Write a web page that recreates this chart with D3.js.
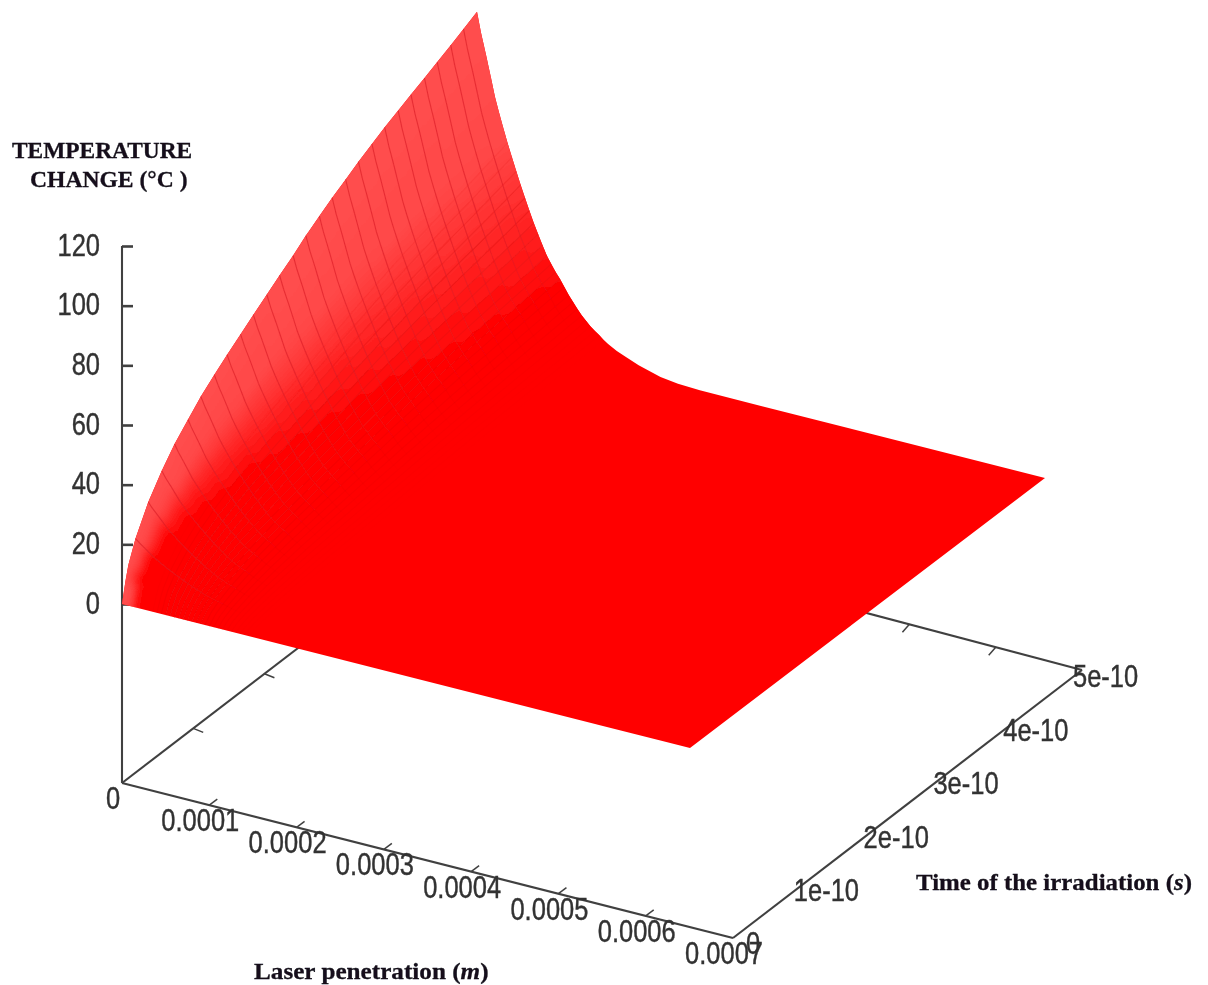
<!DOCTYPE html>
<html><head><meta charset="utf-8">
<script src="https://cdn.jsdelivr.net/npm/d3@7/dist/d3.min.js"></script>
<style>html,body{margin:0;padding:0;background:#fff}svg{display:block}</style>
</head><body><div id="chart"></div>
<script>
// Tick labels
const zTicks = [0, 20, 40, 60, 80, 100, 120];
const depthTicks = [0, 1e-4, 2e-4, 3e-4, 4e-4, 5e-4, 6e-4, 7e-4];
const depthTickLabels = ["0","0.0001","0.0002","0.0003","0.0004","0.0005","0.0006","0.0007"];
const timeTicks = [0, 1e-10, 2e-10, 3e-10, 4e-10, 5e-10];
const timeTickLabels = ["0","1e-10","2e-10","3e-10","4e-10","5e-10"];

// Surface temperature (deg C, depth 0) read along the upper-left edge of the sheet; time in 1e-10 s
const timeSamples = [0,0.05,0.09,0.19,0.37,0.56,0.74,0.93,1.11,1.30,1.48,1.67,1.85,2.04,2.22,2.41,2.59,2.78,2.96,3.15,3.33,3.52,3.70,3.89,4.07,4.26,4.44,4.63,4.81,5.0];
const surfaceTemp = [0,7,11.5,18.5,27.5,34.5,40.2,45,49.5,53.3,56.8,60.2,63.5,66.8,70,73.2,76.6,79.7,82.6,85.3,88,90.5,92.8,95,97.1,99.2,101.3,103.5,105.7,108];
// Relative fall of temperature with depth, read along the right edge of the sheet; depth in 1e-4 m
const depthSamples = [0,0.046,0.103,0.16,0.206,0.25,0.298,0.35,0.4,0.45,0.5,0.55,0.6,0.65,0.7,0.75,0.8,0.85,0.9,0.95,1.0,1.05,1.1,1.15,1.2,1.25,1.3,1.35,1.4,1.45,1.5,1.6,1.7,1.85,2.1,2.3,2.55,3.25,4.55,6.5];
const depthFraction = [1,0.938,0.874,0.806,0.75,0.707,0.663,0.617,0.576,0.536,0.497,0.46,0.424,0.389,0.358,0.327,0.298,0.276,0.254,0.236,0.215,0.193,0.175,0.157,0.14,0.126,0.113,0.102,0.092,0.081,0.072,0.057,0.046,0.03,0.011,0.004,0.0005,0,0,0];

const W = 1208, H = 985;
const svg = d3.select("#chart").append("svg").attr("width", W).attr("height", H);
const defs = svg.append("defs");
const mkBlur=(id,s)=>defs.append("filter").attr("id",id).attr("x","-5%").attr("y","-5%").attr("width","110%").attr("height","110%").append("feGaussianBlur").attr("stdDeviation",s);
mkBlur("soft",0.55); mkBlur("wide",4);

// Projection scales: sheet (surface) and floor box
const sheetXx = d3.scaleLinear([0,6.5],[0,568]), sheetXy = d3.scaleLinear([0,6.5],[0,144]);
const sheetTx = d3.scaleLinear([0,5],[0,355]),   sheetTy = d3.scaleLinear([0,5],[0,-270]);
const zY = d3.scaleLinear([0,120],[604,246]);
const project = (d,t,z) => [122 + sheetXx(d) + sheetTx(t), zY(z) + sheetXy(d) + sheetTy(t)];

const O=[122,783], A=[733,938], C=[1082,670], D=[478,510];
const fx = d3.scaleLinear([0,7e-4],[0,1]), ft = d3.scaleLinear([0,5e-10],[0,1]);
const lerp=(a,b,u)=>[a[0]+(b[0]-a[0])*u, a[1]+(b[1]-a[1])*u];

const axes = svg.append("g").attr("filter","url(#soft)");
const axisColor="#404040";
[[O,A],[A,C],[C,D],[D,O],[[122,246],O]].forEach(([a,b])=>axes.append("path").attr("d",d3.line()([a,b])).attr("fill","none").attr("stroke",axisColor).attr("stroke-width",2.1));

// z axis
const zAxis = axes.append("g").attr("transform","translate(122,0)").call(d3.axisLeft(zY).tickValues(zTicks).tickSize(-11).tickPadding(0).tickFormat(d3.format("d")));
zAxis.select(".domain").remove();
zAxis.selectAll(".tick line").attr("stroke",axisColor).attr("stroke-width",2.6);
const numStyle = s => s.attr("font-family","'Liberation Sans',Arial,sans-serif").attr("font-size",25.5).attr("fill","#333").attr("stroke","#333").attr("stroke-width",0.35);
zAxis.selectAll(".tick text").attr("x",null).attr("dy",null).attr("text-anchor","end").call(numStyle)
  .attr("transform","translate(-22,9) scale(1,1.22)");

// depth axis ticks (front and back)
axes.selectAll(".dtick").data(depthTicks.slice(1,-1)).join("path").attr("class","dtick")
  .attr("d",d=>{const p=lerp(O,A,fx(d));return d3.line()([p,[p[0]+8,p[1]-6]]);})
  .attr("stroke",axisColor).attr("stroke-width",1.5);
axes.selectAll(".dtickb").data(depthTicks.slice(1,-1)).join("path").attr("class","dtickb")
  .attr("d",d=>{const p=lerp(D,C,fx(d));return d3.line()([p,[p[0]-7,p[1]+8]]);})
  .attr("stroke",axisColor).attr("stroke-width",1.5);
axes.selectAll(".dlab").data(depthTicks).join("text").attr("class","dlab")
  .text((d,i)=>depthTickLabels[i]).attr("text-anchor","middle").call(numStyle)
  .attr("transform",d=>{const p=lerp(O,A,fx(d));return `translate(${p[0]-9},${p[1]+26}) scale(1,1.22)`;});

// time axis ticks (left side) and labels (right side)
axes.selectAll(".ttick").data(timeTicks.slice(1,-1)).join("path").attr("class","ttick")
  .attr("d",d=>{const p=lerp(O,D,ft(d));return d3.line()([p,[p[0]+10,p[1]+4]]);})
  .attr("stroke",axisColor).attr("stroke-width",1.5);
axes.selectAll(".tlab").data(timeTicks).join("text").attr("class","tlab")
  .text((d,i)=>timeTickLabels[i]).attr("text-anchor","start").call(numStyle)
  .attr("transform",(d,i)=>{const p=lerp(A,C,ft(d));return i===0?`translate(${p[0]+13},${p[1]+16}) scale(1,1.22)`:`translate(${p[0]-9},${p[1]+17}) scale(1,1.22)`;});

// Sheet
const pt=(i,j)=>project(depthSamples[i],timeSamples[j],surfaceTemp[j]*depthFraction[i]);
const nD=depthSamples.length, nT=timeSamples.length;
const outline=[...timeSamples.map((t,j)=>pt(0,j)),...depthSamples.map((d,i)=>pt(i,nT-1)).slice(1),pt(nD-1,0)];
const outlineD=d3.line()(outline)+"Z";
defs.append("clipPath").attr("id","sheetClip").append("path").attr("d",outlineD);
const sheet = svg.append("g").attr("filter","url(#soft)");
sheet.append("path").attr("d",outlineD).attr("fill","#ff0000");

// lightness follows the spread of the mesh: strongest on the hot, steep part of the sheet
const spread = (i,j) => depthSamples[i]/(Math.max(1,(surfaceTemp[j]+surfaceTemp[j+1])/2)/108);
const cellColor = d3.scaleLinear([0,0.3,0.62,1.0],["#ff4e4e","#ff4848","#ff2222","#ff0000"]).clamp(true);
const cells=[];
for(let j=nT-2;j>=0;j--) for(let i=nD-2;i>=0;i--) if(spread(i,j)<1.4) cells.push([i,j]);
const cellPath=([i,j])=>d3.line()([pt(i,j),pt(i+1,j),pt(i+1,j+1),pt(i,j+1)])+"Z";
const glow = sheet.append("g").attr("clip-path","url(#sheetClip)").append("g").attr("filter","url(#wide)");
// first pass spreads colour past the edge so that the blur keeps the rim light; second pass lays the cells
glow.selectAll(".rim").data(cells.filter(([i,j])=>i===0||j===nT-2)).join("path").attr("class","rim")
  .attr("d",cellPath).attr("fill","none").attr("stroke",([i,j])=>cellColor(spread(i,j))).attr("stroke-width",16);
glow.selectAll(".cell").data(cells).join("path").attr("class","cell")
  .attr("d",cellPath).attr("fill",([i,j])=>cellColor(spread(i,j))).attr("stroke",([i,j])=>cellColor(spread(i,j))).attr("stroke-width",0.5);

// constant-depth hatch
const hatchOpacity = d3.scaleLinear([0.3,0.55,1.5],[0,0.5,0]).clamp(true);
const hatch=[];
depthSamples.forEach((d,i)=>{ if(d>0.3&&d<1.5) for(let j=0;j<nT-1;j++) hatch.push([i,j]); });
sheet.selectAll(".hatch").data(hatch).join("path").attr("class","hatch")
  .attr("d",([i,j])=>d3.line()([pt(i,j),pt(i,j+1)])).attr("fill","none")
  .attr("stroke","#e01818").attr("stroke-width",1.1).attr("stroke-opacity",([i])=>hatchOpacity(depthSamples[i]));

// constant-time mesh lines
const lineOpacity = d3.scaleLinear([0,0.5,1.2],[0.7,0.65,0]).clamp(true);
const segs=[];
timeSamples.forEach((t,j)=>{ if(j>=3&&j<nT-1) for(let i=0;i<nD-1;i++) if(depthSamples[i]<1.2) segs.push([i,j]); });
sheet.selectAll(".iso").data(segs).join("path").attr("class","iso")
  .attr("d",([i,j])=>d3.line()([pt(i,j),pt(i+1,j)])).attr("fill","none")
  .attr("stroke","#dc1f28").attr("stroke-width",1.1).attr("stroke-opacity",([i])=>lineOpacity(depthSamples[i]));

// Titles
const serif = s => s.attr("font-family","'Liberation Serif','Times New Roman',serif").attr("font-weight","bold").attr("fill","#14101a").attr("stroke","#14101a").attr("stroke-width",0.3);
const titles = svg.append("g").attr("filter","url(#soft)");
titles.append("text").attr("x",12).attr("y",158).attr("font-size",23.4).call(serif).text("TEMPERATURE");
titles.append("text").attr("x",30).attr("y",187).attr("font-size",23.6).call(serif).text("CHANGE (°C )");
const xt = titles.append("text").attr("transform","translate(254,979) scale(1.05,1)").attr("font-size",24).call(serif);
xt.append("tspan").text("Laser penetration (");xt.append("tspan").attr("font-style","italic").text("m");xt.append("tspan").text(")");
const yt = titles.append("text").attr("transform","translate(916,890) scale(1.037,1)").attr("font-size",24).call(serif);
yt.append("tspan").text("Time of the irradiation (");yt.append("tspan").attr("font-style","italic").text("s");yt.append("tspan").text(")");
</script></body></html>
